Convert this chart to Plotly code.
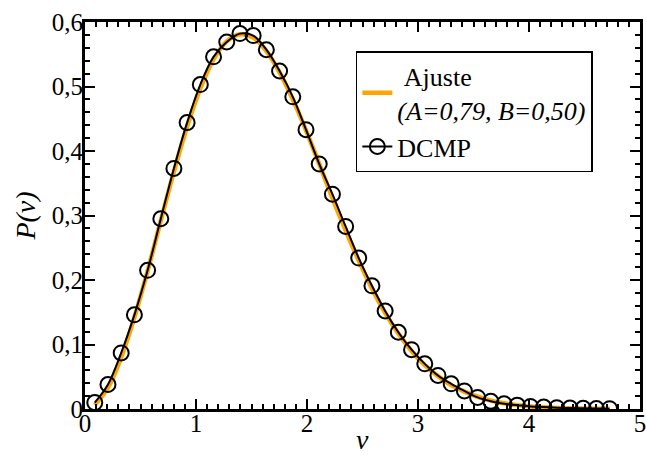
import plotly.graph_objects as go

# DCMP data points
v_data = [0.088, 0.207, 0.326, 0.445, 0.564, 0.683, 0.801, 0.920, 1.039, 1.158,
          1.277, 1.396, 1.515, 1.634, 1.753, 1.872, 1.991, 2.110, 2.229, 2.348,
          2.466, 2.585, 2.704, 2.823, 2.942, 3.061, 3.180, 3.299, 3.418, 3.537,
          3.656, 3.775, 3.894, 4.013, 4.132, 4.250, 4.369, 4.488, 4.607, 4.726]
p_data = [0.010, 0.038, 0.087, 0.146, 0.215, 0.295, 0.373, 0.444, 0.503, 0.546,
          0.569, 0.582, 0.579, 0.557, 0.524, 0.484, 0.433, 0.380, 0.333, 0.283,
          0.234, 0.191, 0.152, 0.119, 0.092, 0.070, 0.052, 0.039, 0.028, 0.018,
          0.012, 0.008, 0.006, 0.004, 0.003, 0.002, 0.0015, 0.001, 0.0008, 0.0005]

# Fit curve (Ajuste) values
v_fit = v_data
p_fit = [0.006, 0.033, 0.080, 0.142, 0.214, 0.292, 0.368, 0.438, 0.497, 0.542,
         0.570, 0.581, 0.576, 0.555, 0.522, 0.480, 0.432, 0.380, 0.327, 0.277,
         0.230, 0.187, 0.149, 0.117, 0.090, 0.068, 0.051, 0.037, 0.027, 0.019,
         0.013, 0.009, 0.006, 0.004, 0.0026, 0.0017, 0.0011, 0.0007, 0.0004, 0.0003]

x_ticks = [0, 1, 2, 3, 4, 5]
y_ticks = [0, 0.1, 0.2, 0.3, 0.4, 0.5, 0.6]
y_ticktext = ["0", "0,1", "0,2", "0,3", "0,4", "0,5", "0,6"]

FONT = "Liberation Serif"

fig = go.Figure()
fig.add_trace(go.Scatter(
    x=v_fit, y=p_fit, mode="lines", line=dict(color="#FFA500", width=4.5, shape="spline"),
    name="&nbsp;Ajuste<br><i>(A=0,79, B=0,50)</i>"))
fig.add_trace(go.Scatter(
    x=v_data, y=p_data, mode="lines+markers",
    line=dict(color="black", width=2, shape="spline"),
    marker=dict(symbol="circle-open", size=15, color="black", line=dict(width=2, color="black")),
    name="DCMP"))

fig.update_layout(
    width=646, height=455,
    margin=dict(l=85, r=6, t=22, b=46),
    paper_bgcolor="white", plot_bgcolor="white",
    showlegend=True,
    legend=dict(
        x=0.488, y=0.925, xanchor="left", yanchor="top",
        bgcolor="white", bordercolor="black", borderwidth=1.5,
        font=dict(family=FONT, size=26, color="black"),
        tracegroupgap=0, itemwidth=30,
    ),
)
common = dict(
    showline=True, linecolor="black", linewidth=3, mirror="allticks",
    ticks="inside", ticklen=10, tickwidth=2, tickcolor="black",
    showgrid=False, zeroline=False, automargin=False,
    ticklabeloverflow="allow",
    tickfont=dict(family=FONT, size=25, color="black"),
)
fig.update_xaxes(
    range=[0, 5], tickvals=x_ticks, ticktext=[str(t) for t in x_ticks],
    minor=dict(dtick=0.1, ticks="inside", ticklen=5, tickwidth=2, tickcolor="black"),
    ticklabelstandoff=-10,
    **common,
)
fig.update_yaxes(
    range=[0, 0.6], tickvals=y_ticks, ticktext=y_ticktext,
    minor=dict(dtick=0.02, ticks="inside", ticklen=5, tickwidth=2, tickcolor="black"),
    ticklabelstandoff=-6,
    title=dict(text="<i>P(v)</i>", font=dict(family=FONT, size=28, color="black"), standoff=8),
    **common,
)
# x-axis title placed as an annotation so it can sit low in the bottom margin
fig.add_annotation(
    text="<i>v</i>", xref="paper", yref="paper", x=0.5, y=-0.08,
    xanchor="center", yanchor="middle", showarrow=False,
    font=dict(family=FONT, size=28, color="black"),
)

fig.write_html("out.html")
